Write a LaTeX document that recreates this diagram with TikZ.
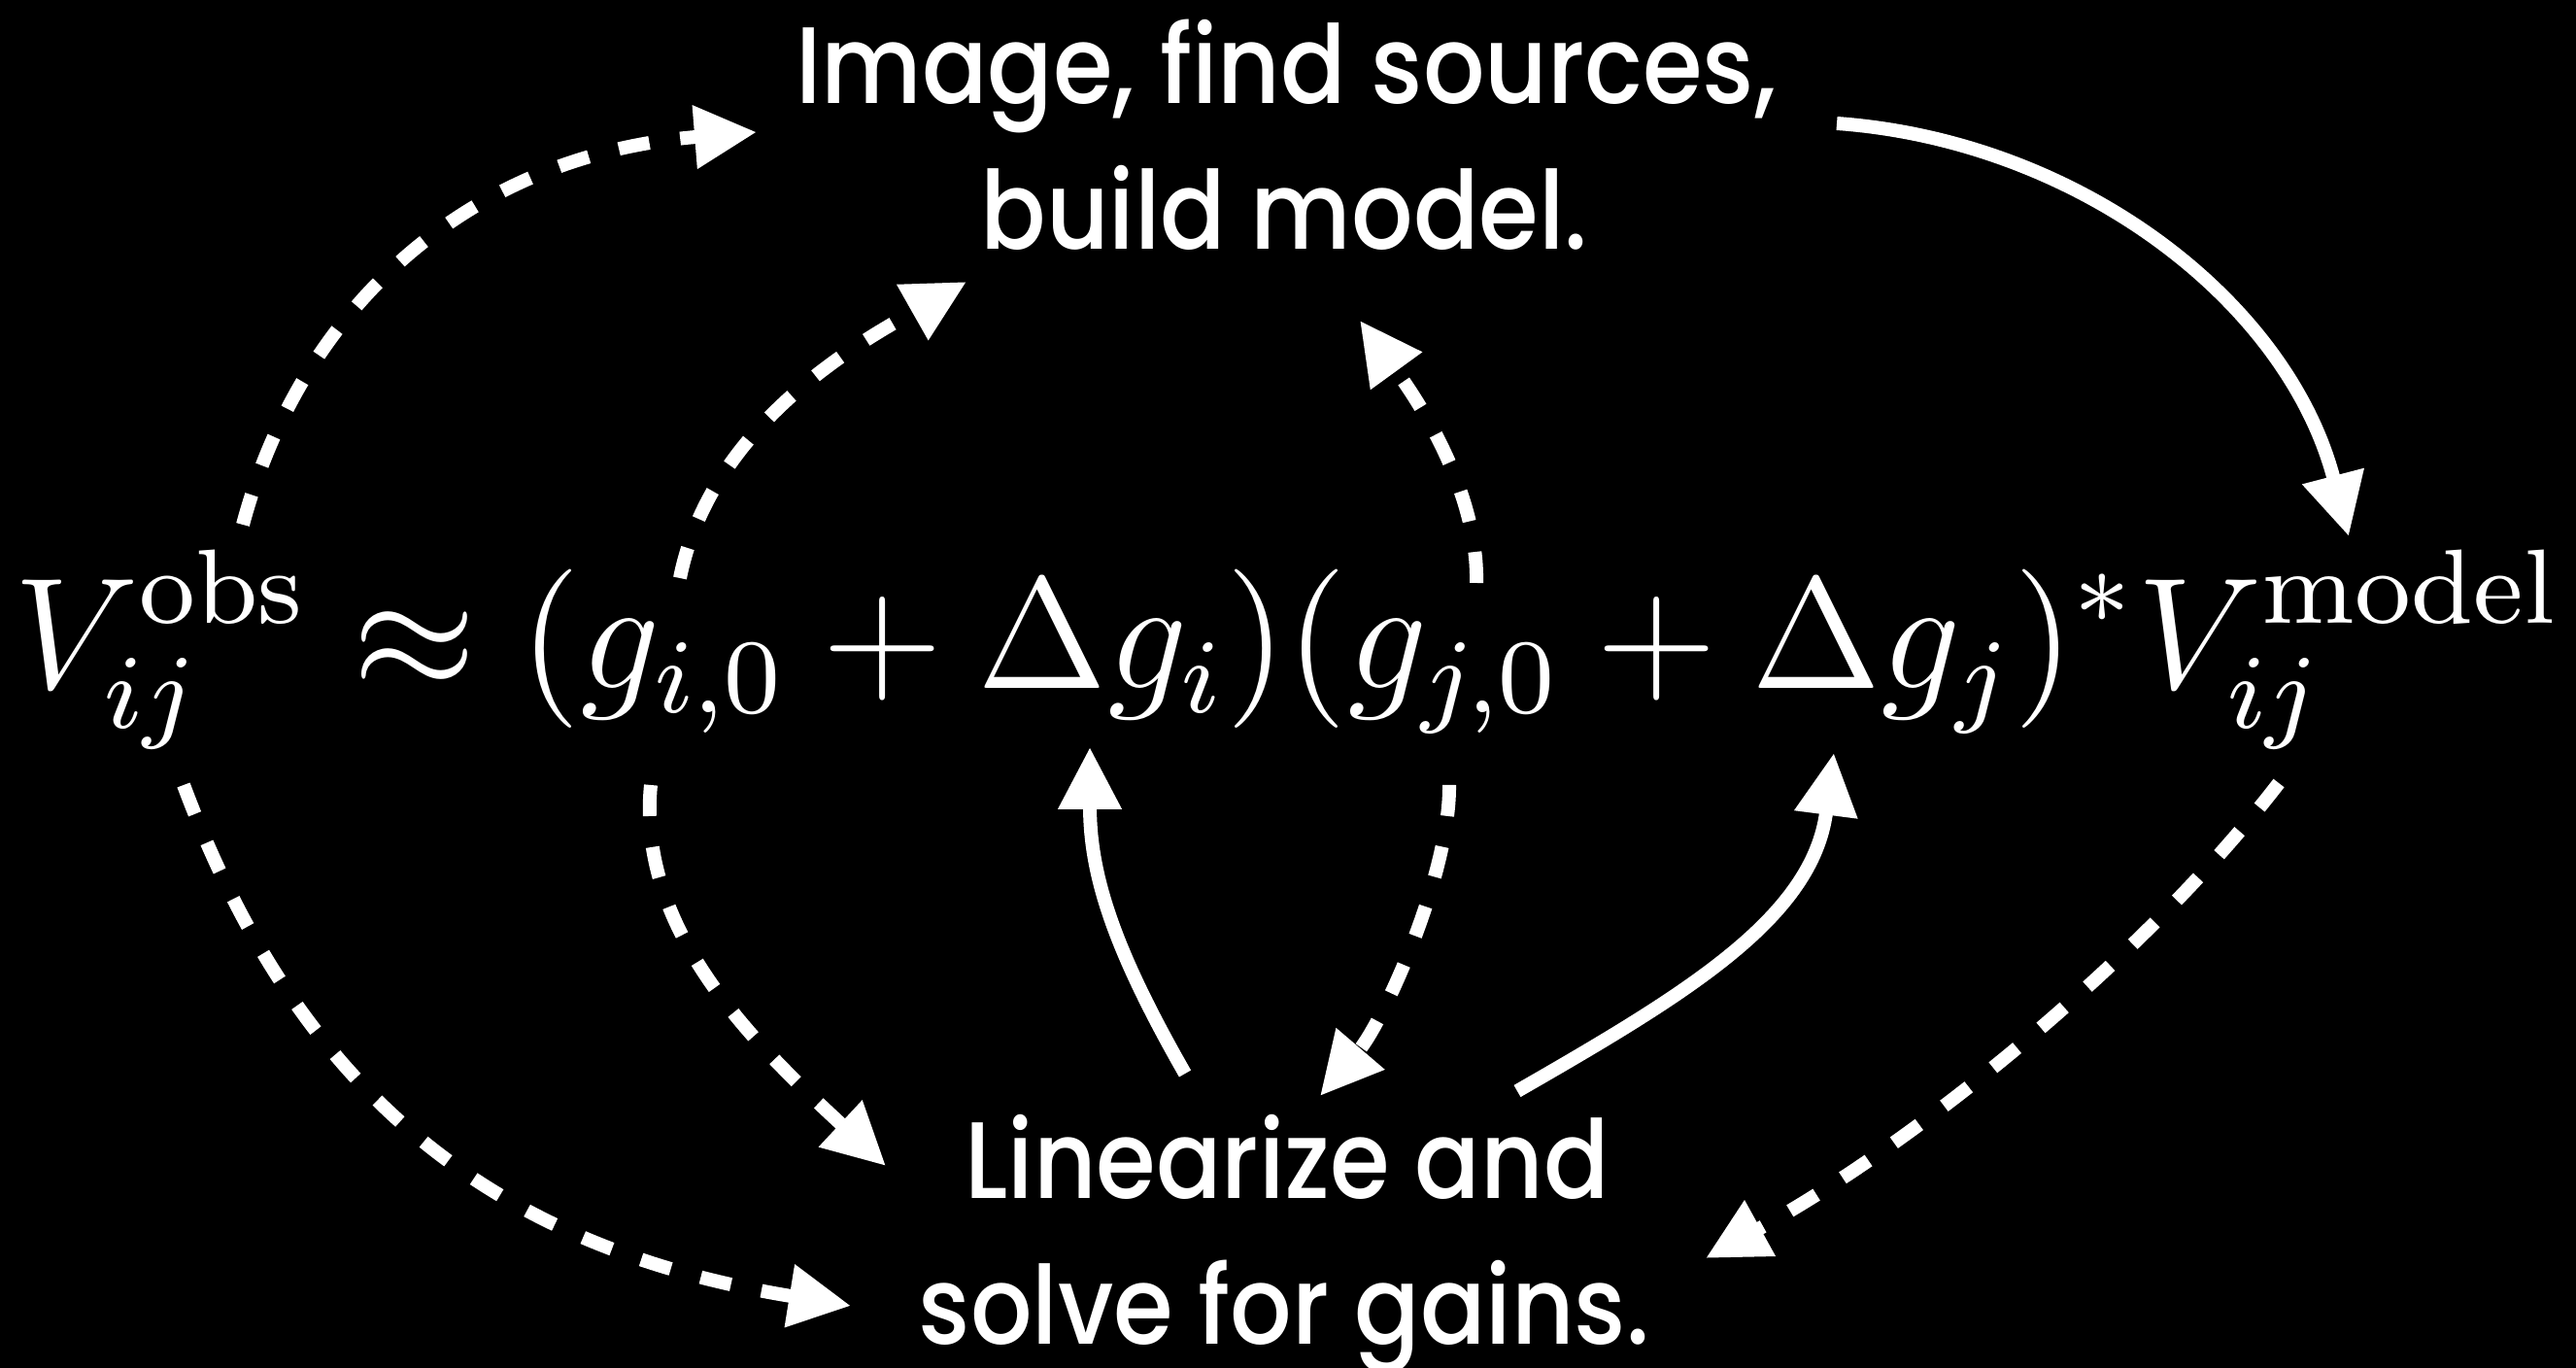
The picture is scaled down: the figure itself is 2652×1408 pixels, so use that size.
\documentclass[tikz,border=0pt]{standalone}
\usepackage{fontspec}
\usepackage{graphicx}
\usetikzlibrary{arrows.meta}
\newfontfamily\labelfont[FakeStretch=0.89]{Poppins Medium}
\tikzset{
  solidarrow/.style={draw=white, line width=3.5pt, -{Triangle[length=16pt,width=15.5pt]}},
  dasharrow/.style={solidarrow, dash pattern=on 8pt off 8pt},
  lbl/.style={text=white, font=\labelfont\fontsize{28}{32}\selectfont, inner sep=0pt, anchor=base},
}
\begin{document}
\begin{tikzpicture}[x=0.25pt, y=-0.25pt]
\fill[black] (0,0) rectangle (2652,1408);
\useasboundingbox (0,0) rectangle (2652,1408);

% labels
\node[lbl] (img1) at (1324,107) {Image, find sources,};
\node[lbl] (img2) at (1322,257) {build model.};
\node[lbl] (lin1) at (1325,1233) {Linearize and};
\node[lbl] (lin2) at (1322,1383) {solve for gains.};

% equation
\node[anchor=base west, inner sep=0pt, text=white] (eq) at (14,709)
  {\scalebox{3.40}{\fontsize{12}{14}\selectfont$\displaystyle V_{ij}^{\mathrm{obs}}\approx(g_{i,0}+\Delta g_i)(g_{j,0}+\Delta g_j)^*V_{ij}^{\mathrm{model}}$}};

% connector end points
\coordinate (aS) at (250,540);   \coordinate (aE) at (779,136);
\coordinate (bS) at (1891,127);  \coordinate (bE) at (2418,552);
\coordinate (cS) at (700,595);   \coordinate (cE) at (995,290);
\coordinate (dS) at (1520,600);  \coordinate (dE) at (1400,330);
\coordinate (eS) at (670,808);   \coordinate (eE) at (912,1200);
\coordinate (fS) at (1492,808);  \coordinate (fE) at (1359,1128);
\coordinate (gS) at (1220,1105); \coordinate (gE) at (1122,769);
\coordinate (hS) at (1562,1123); \coordinate (hE) at (1888,775);
\coordinate (iS) at (189,808);   \coordinate (iE) at (876,1344);
\coordinate (jS) at (2346,806);  \coordinate (jE) at (1756,1295);

% V_obs -> image
\draw[dasharrow] (aS) .. controls (309,320) and (479,160) .. (aE);
% image -> V_model
\draw[solidarrow] (bS) .. controls (2140,145) and (2355,310) .. (bE);
% g_i0 -> image
\draw[dasharrow] (cS) .. controls (732,435) and (891,349) .. (cE);
% g_j0 -> image
\draw[dasharrow] (dS) .. controls (1522,500) and (1453,403) .. (dE);
% g_i0 -> linearize
\draw[dasharrow] (eS) .. controls (655,960) and (781,1078) .. (eE);
% g_j0 -> linearize
\draw[dasharrow] (fS) .. controls (1493,900) and (1424,1052) .. (fE);
% linearize -> Delta g_i
\draw[solidarrow] (gS) .. controls (1145,974) and (1122,899) .. (gE);
% linearize -> Delta g_j
\draw[solidarrow] (hS) .. controls (1736,1023) and (1866,945) .. (hE);
% V_obs -> linearize
\draw[dasharrow] (iS) .. controls (305,1118) and (500,1283) .. (iE);
% V_model -> linearize
\draw[dasharrow] (jS) .. controls (2212,980) and (1984,1169) .. (jE);
\end{tikzpicture}
\end{document}
